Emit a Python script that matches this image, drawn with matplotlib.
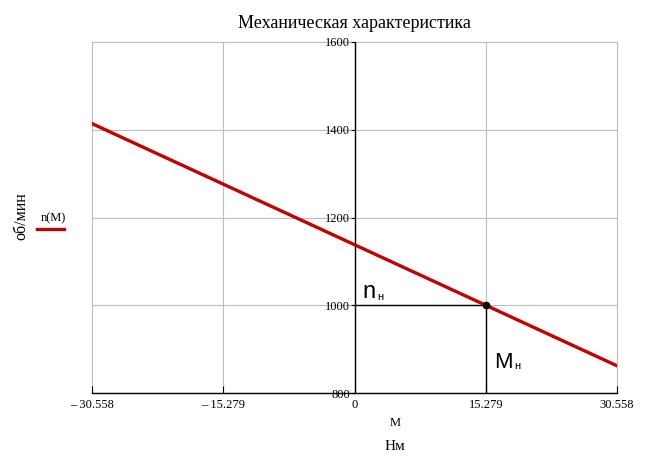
import matplotlib.pyplot as plt

# data
M = [-30.558, 0, 15.279, 30.558]
n = [1414, 1138, 1000, 862]
M_nom = 15.279
n_nom = 1000
x_ticks = [-30.558, -15.279, 0, 15.279, 30.558]
x_labels = ['\u2013 30.558', '\u2013 15.279', '0', '15.279', '30.558']
y_ticks = [800, 1000, 1200, 1400, 1600]

serif = 'Liberation Serif'
sans = 'Liberation Sans'
red = '#c00000'
W, H = 651, 466

fig = plt.figure(figsize=(6.51, 4.66), dpi=100)
ax = fig.add_axes([92/W, 1 - 393/H, 525/W, 351/H])

ax.set_xlim(-30.558, 30.558)
ax.set_ylim(800, 1600)

# grid
for x in x_ticks:
    ax.axvline(x, color='#bcbcbc', lw=0.8, zorder=0, clip_on=False)
for y in y_ticks:
    ax.axhline(y, color='#bcbcbc', lw=0.8, zorder=0, clip_on=False)

ax.plot(M, n, color=red, lw=2.4, zorder=3)

# nominal point
ax.plot([0, M_nom], [n_nom, n_nom], color='black', lw=1, zorder=2)
ax.plot([M_nom, M_nom], [800, n_nom], color='black', lw=1, zorder=2)
ax.plot([M_nom], [n_nom], 'o', color='black', ms=4.5, zorder=4)

def fpos(px, py):
    return px / W, 1 - py / H

fig.text(*fpos(362, 298), 'n', family=sans, fontsize=17, va='baseline')
fig.text(*fpos(377, 300), 'н', family=sans, fontsize=8, va='baseline')
fig.text(*fpos(494, 368), 'M', family=sans, fontsize=16, va='baseline')
fig.text(*fpos(514, 369), 'н', family=sans, fontsize=8, va='baseline')

# axes
for s in ['top', 'right']:
    ax.spines[s].set_visible(False)
ax.spines['left'].set_position(('data', 0))
ax.spines['left'].set_linewidth(1)
ax.spines['bottom'].set_linewidth(1)

ax.set_xticks(x_ticks)
ax.set_xticklabels(x_labels, family=serif, fontsize=9)
ax.set_yticks(y_ticks)
ax.set_yticklabels([str(v) for v in y_ticks], family=serif, fontsize=9)
ax.tick_params(axis='x', direction='in', length=5, pad=4)
ax.tick_params(axis='y', direction='out', length=3, pad=0)

ax.set_title('Механическая характеристика', family=serif, fontsize=13, pad=10)

fig.text(*fpos(395, 423), 'M', family=serif, fontsize=9, ha='center', va='center')
fig.text(*fpos(395, 446), 'Нм', family=serif, fontsize=11, ha='center', va='center')
fig.text(*fpos(21, 216), 'об/мин', family=serif, fontsize=11.5, rotation=90,
         ha='center', va='center')
fig.text(*fpos(53, 218), 'n(M)', family=serif, fontsize=9, ha='center', va='center')
fig.add_artist(plt.Line2D([37/W, 64/W], [1 - 229/H, 1 - 229/H], color=red, lw=2.4))

fig.savefig('out.png', dpi=100)
